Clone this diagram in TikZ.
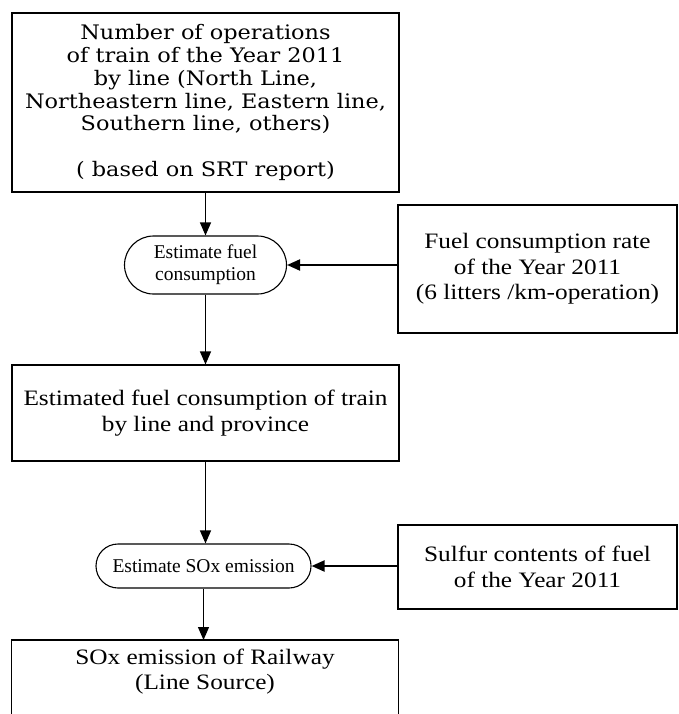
\documentclass[tikz,border=0pt]{standalone}
\usepackage{fontspec}
\setmainfont[FakeStretch=1.15]{Liberation Serif}
\newfontfamily\bookfont[FakeStretch=1.12]{DejaVu Serif}
\newfontfamily\ovalfont{Liberation Serif}
\usetikzlibrary{arrows.meta,shapes.misc}

\begin{document}
\begin{tikzpicture}[x=1pt,y=-1pt,>={Triangle[length=13pt,width=11pt]}]
    \tikzstyle{box}=[rectangle,draw=black,line width=1.1pt,align=center,inner sep=0pt,
        font=\fontsize{22}{25.5}\selectfont]
    \tikzstyle{oval}=[rounded rectangle,draw=black,line width=1.1pt,align=center,inner sep=0pt,
        font=\ovalfont\fontsize{19.5}{22}\selectfont]
    \tikzstyle{flow}=[->,line width=1.2pt]
    \tikzstyle{feed}=[->,line width=2pt]

    \useasboundingbox (0,0) rectangle (678,714);
    \clip (0,0) rectangle (678,714);

    \node[box,minimum width=387pt,minimum height=179pt,
        font=\bookfont\fontsize{20}{22.8}\selectfont] (ops) at (205.5,102.5)
        {Number of operations\\of train of the Year 2011\\by line (North Line,\\
         Northeastern line, Eastern line,\\Southern line, others)\\[22.8pt]( based on SRT report)};
    \node[oval,minimum width=162pt,minimum height=58pt] (estfuel) at (205.5,265)
        {Estimate fuel\\consumption};
    \node[box,minimum width=279pt,minimum height=128pt] (rate) at (537.5,269)
        {Fuel consumption rate\\of the Year 2011\\(6 litters /km-operation)};
    \node[box,minimum width=387pt,minimum height=96pt] (estcons) at (205.5,413)
        {Estimated fuel consumption of train\\by line and province};
    \node[oval,minimum width=215pt,minimum height=44pt] (estsox) at (203.5,566)
        {Estimate SOx emission};
    \node[box,minimum width=279pt,minimum height=84pt] (sulfur) at (537.5,567)
        {Sulfur contents of fuel\\of the Year 2011};
    \node[box,draw=none,minimum width=386pt,minimum height=62pt,anchor=north] (soxrail) at (205,640)
        {SOx emission of Railway\\(Line Source)};
    \draw[line width=1.1pt] (soxrail.north west) rectangle ([yshift=-40pt]soxrail.south east);

    \foreach \from/\to in {ops/estfuel, estfuel/estcons, estcons/estsox, estsox/soxrail}
        \draw[flow] (\from.south) -- (\from.south |- \to.north);

    \foreach \from/\to in {rate/estfuel, sulfur/estsox}
        \draw[feed] (\from.west |- \to.east) -- (\to.east);
\end{tikzpicture}
\end{document}
